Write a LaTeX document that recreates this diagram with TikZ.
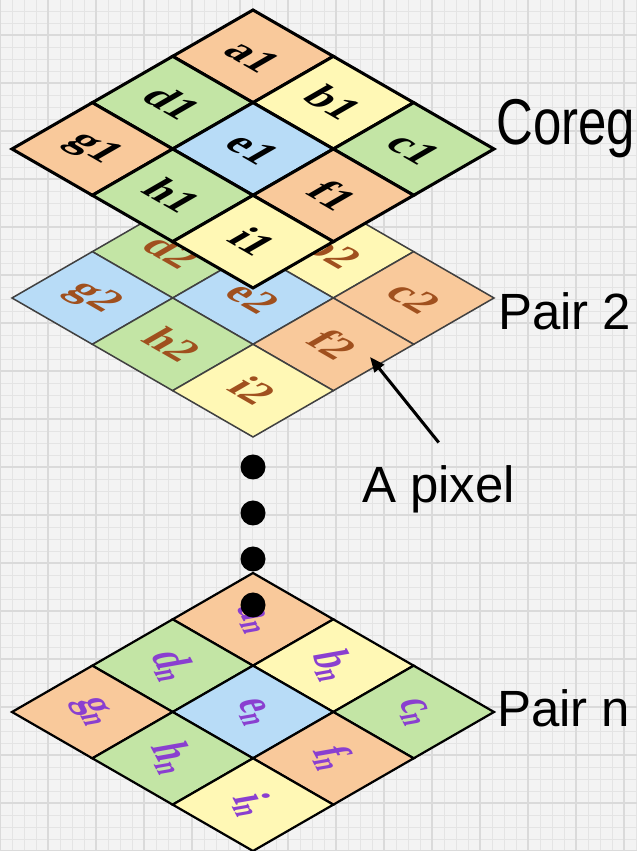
\documentclass[tikz,border=0pt]{standalone}
\usepackage{fontspec}
\setmainfont{Liberation Serif}
\setsansfont{Liberation Sans}
\usetikzlibrary{arrows.meta,positioning}
\definecolor{pxorange}{HTML}{F9C99B}
\definecolor{pxgreen}{HTML}{C3E5A5}
\definecolor{pxyellow}{HTML}{FFF8B5}
\definecolor{pxblue}{HTML}{B8DCF7}
\definecolor{pxbrown}{HTML}{A0501E}
\definecolor{pxpurple}{HTML}{8A3FD0}
\definecolor{pxbg}{HTML}{F3F3F3}
\definecolor{pxminor}{HTML}{E4E4E4}
\definecolor{pxmajor}{HTML}{DADADA}
\tikzset{
  >={Triangle[length=4.5mm,width=3.6mm]},
  player/.style={cm={0.8033,-0.4633,0.8033,0.4633,(253,#1)}},
  pcell/.style={draw=black, line width=2.6pt},
  plbl/.style={transform shape, inner sep=0pt,
               font=\fontsize{40}{44}\selectfont\bfseries},
  pside/.style={anchor=base west, inner sep=0pt,
                font=\sffamily\fontsize{43.5}{50}\selectfont},
  pointer/.style={->, line width=2.6pt},
}

\begin{document}
\begin{tikzpicture}[x=0.3mm,y=0.3mm]

  % --- papel quadriculado ---
  \useasboundingbox (0,0) rectangle (637,851);
  \fill[pxbg] (0,0) rectangle (637,851);
  \draw[pxminor, line width=0.6pt, step={(12,12)}] (0,0) grid (637,851);
  \draw[pxmajor, line width=0.9pt, step={(48,48)}] (0,0) grid (637,851);

  % --- Pair n ---
  \begin{scope}[player=278]
    \foreach \i/\j/\c/\l in {0/0/pxorange/a, 1/0/pxyellow/b, 2/0/pxgreen/c,
                             0/1/pxgreen/d,  1/1/pxblue/e,   2/1/pxorange/f,
                             0/2/pxorange/g, 1/2/pxgreen/h,  2/2/pxyellow/i} {
      \filldraw[pcell, line width=1.9pt, fill=\c] (100*\i,-100*\j) rectangle ++(100,-100);
      \node[plbl, pxpurple, rotate=-28] (\l-n) at (100*\i+50,-100*\j-50) {\l\textsubscript{n}};
    }
  \end{scope}

  % --- Pair 2 ---
  \begin{scope}[player=692]
    \foreach \i/\j/\c/\l in {0/0/pxorange/a, 1/0/pxyellow/b, 2/0/pxorange/c,
                             0/1/pxgreen/d,  1/1/pxblue/e,   2/1/pxorange/f,
                             0/2/pxblue/g,   1/2/pxgreen/h,  2/2/pxyellow/i} {
      \filldraw[pcell, draw=black!75, line width=1.3pt, fill=\c] (100*\i,-100*\j) rectangle ++(100,-100);
      \node[plbl, pxbrown] (\l2) at (100*\i+50,-100*\j-50) {\l2};
    }
  \end{scope}

  % --- Coreg ---
  \begin{scope}[player=841]
    \foreach \i/\j/\c/\l in {0/0/pxorange/a, 1/0/pxyellow/b, 2/0/pxgreen/c,
                             0/1/pxgreen/d,  1/1/pxblue/e,   2/1/pxorange/f,
                             0/2/pxorange/g, 1/2/pxgreen/h,  2/2/pxyellow/i} {
      \filldraw[pcell, fill=\c] (100*\i,-100*\j) rectangle ++(100,-100);
      \node[plbl] (\l1) at (100*\i+50,-100*\j-50) {\l1};
    }
  \end{scope}

  % reticências
  \foreach \y in {384,338,292,246}
    \fill (253,\y) circle (12.5);

  % rótulos
  \node[pside] (coreg) at (496,706) {\scalebox{1}[1.27]{Coreg}};
  \node[pside] (pair2) at (498,521) {Pair 2};
  \node[pside] (pairn) at (497,124) {Pair n};
  \node[pside] (pixel) at (362,348) {A pixel};

  \draw[pointer] ([yshift=7mm]pixel.north) -- ([xshift=11mm,yshift=-3.8mm]f2.center);

\end{tikzpicture}
\end{document}
